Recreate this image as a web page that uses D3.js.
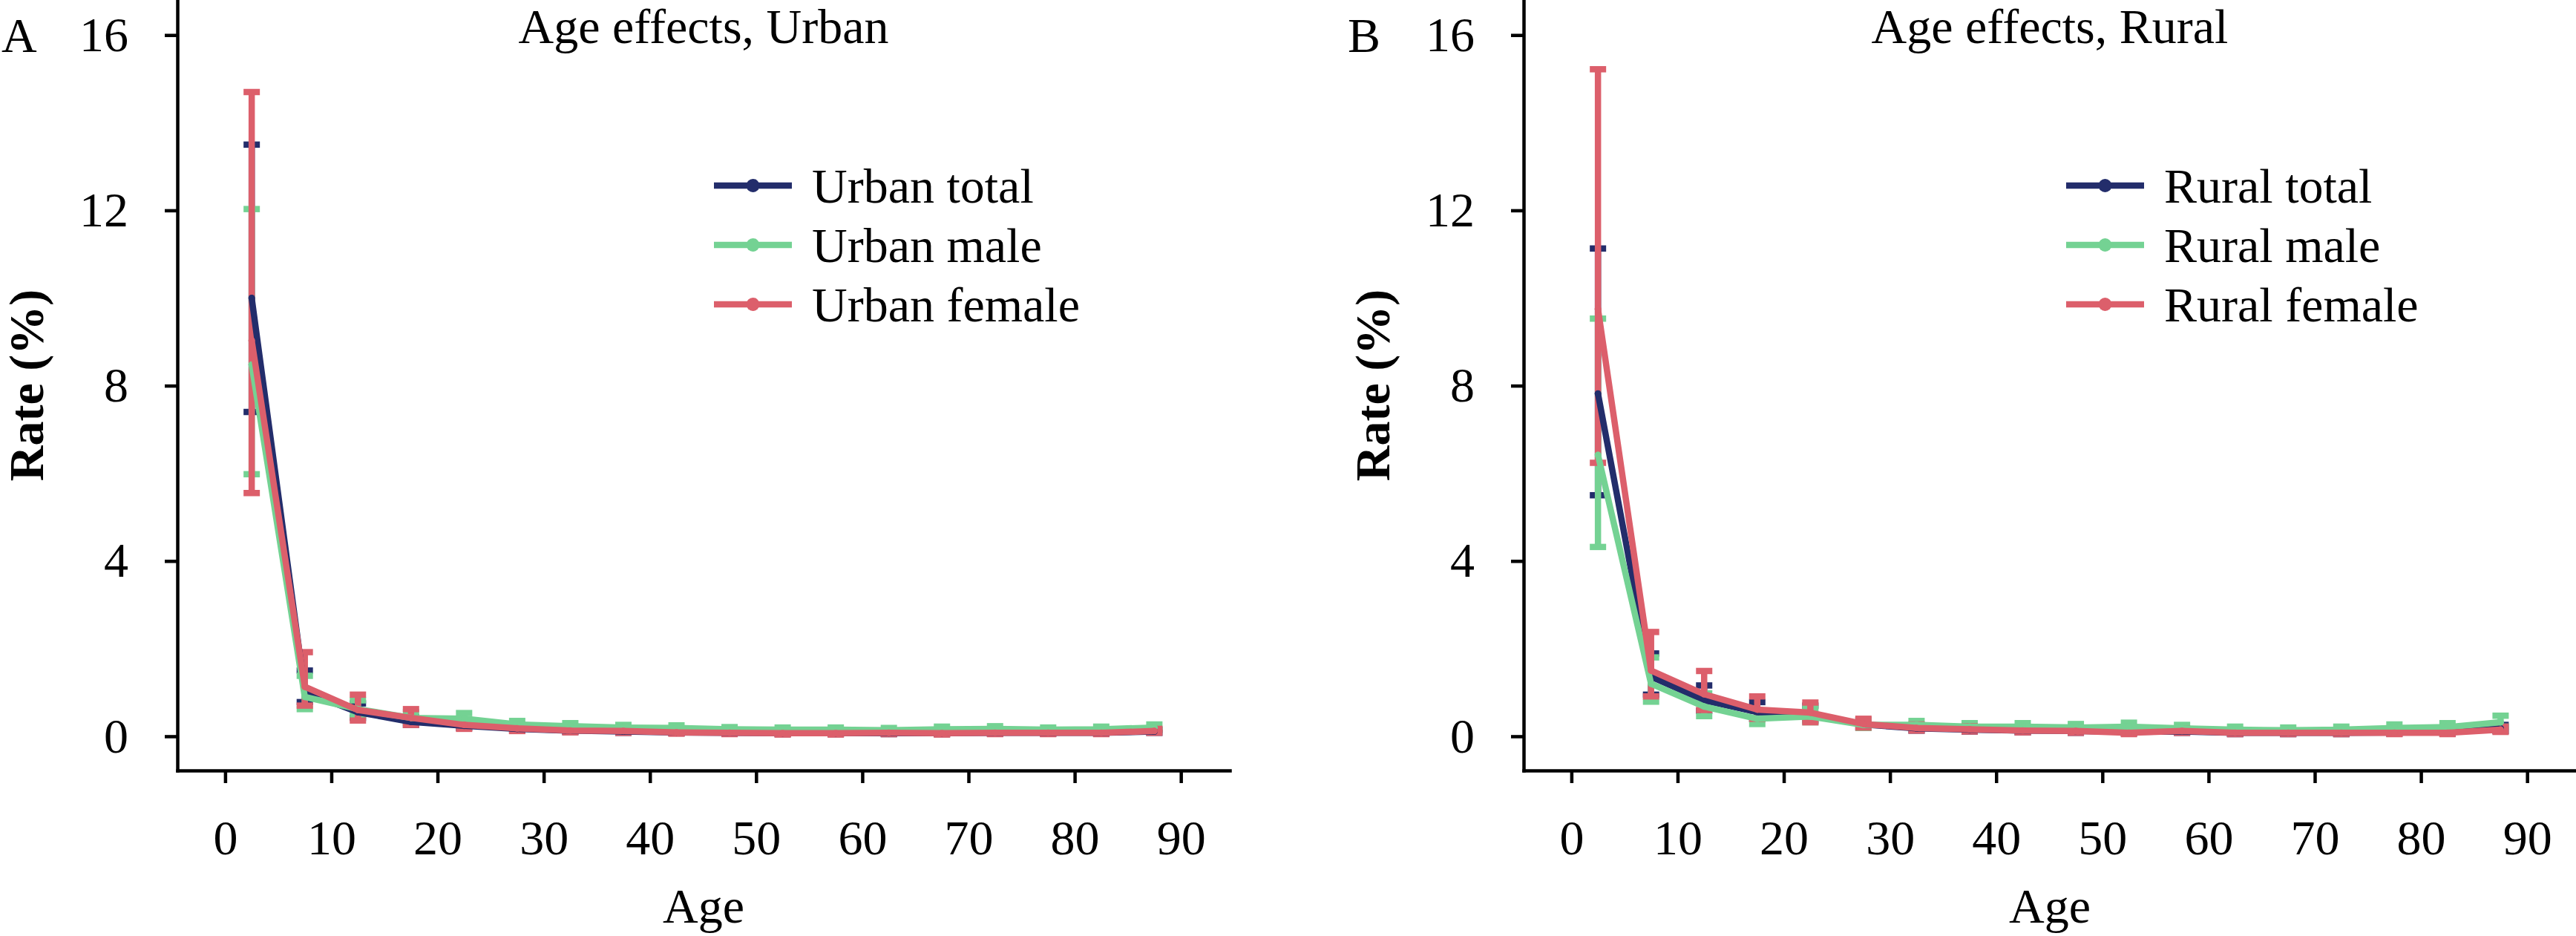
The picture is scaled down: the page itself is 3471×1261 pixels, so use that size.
<!DOCTYPE html>
<html>
<head>
<meta charset="utf-8">
<script src="https://cdn.jsdelivr.net/npm/d3@7"></script>
<style>
  html, body { margin: 0; padding: 0; background: #fff; }
  svg { display: block; }
  text { font-family: "Liberation Serif", "Times New Roman", serif; fill: #000; }
</style>
</head>
<body>
<svg id="chart" width="3471" height="1261"></svg>
<script>
// ---- Data ----
const ages = [2.5, 7.5, 12.5, 17.5, 22.5, 27.5, 32.5, 37.5, 42.5, 47.5, 52.5, 57.5, 62.5, 67.5, 72.5, 77.5, 82.5, 87.5];
const xTicks = [0, 10, 20, 30, 40, 50, 60, 70, 80, 90];
const yTicks = [0, 4, 8, 12, 16];

// Urban
const urbanTotal   = [10.0, 1.02, 0.55, 0.33, 0.24, 0.17, 0.13, 0.11, 0.09, 0.08, 0.07, 0.07, 0.07, 0.07, 0.08, 0.08, 0.08, 0.11];
const urbanTotalLo = [7.4, 0.78, 0.42, 0.26, 0.19, 0.13, 0.10, 0.08, 0.07, 0.06, 0.05, 0.05, 0.05, 0.05, 0.06, 0.06, 0.06, 0.08];
const urbanTotalHi = [13.5, 1.50, 0.75, 0.44, 0.31, 0.22, 0.17, 0.14, 0.12, 0.11, 0.10, 0.10, 0.10, 0.10, 0.11, 0.11, 0.11, 0.15];
const urbanMale    = [8.48, 0.90, 0.62, 0.42, 0.40, 0.27, 0.23, 0.20, 0.19, 0.16, 0.15, 0.15, 0.14, 0.16, 0.17, 0.15, 0.16, 0.20];
const urbanMaleLo  = [5.98, 0.62, 0.47, 0.31, 0.30, 0.21, 0.18, 0.16, 0.15, 0.12, 0.11, 0.11, 0.10, 0.12, 0.13, 0.11, 0.12, 0.15];
const urbanMaleHi  = [12.03, 1.38, 0.82, 0.55, 0.53, 0.35, 0.30, 0.26, 0.25, 0.21, 0.20, 0.20, 0.19, 0.22, 0.23, 0.20, 0.22, 0.27];
const urbanFemale  = [9.03, 1.13, 0.60, 0.42, 0.26, 0.18, 0.13, 0.12, 0.09, 0.08, 0.07, 0.07, 0.08, 0.07, 0.08, 0.08, 0.08, 0.12];
const urbanFemaleLo= [5.55, 0.70, 0.36, 0.26, 0.17, 0.12, 0.09, 0.08, 0.06, 0.05, 0.04, 0.04, 0.05, 0.04, 0.05, 0.05, 0.05, 0.08];
const urbanFemaleHi= [14.7, 1.92, 0.95, 0.62, 0.38, 0.26, 0.19, 0.17, 0.13, 0.12, 0.11, 0.11, 0.12, 0.11, 0.12, 0.12, 0.12, 0.17];

// Rural
const ruralTotal   = [7.82, 1.36, 0.82, 0.55, 0.50, 0.27, 0.18, 0.15, 0.13, 0.12, 0.10, 0.11, 0.08, 0.08, 0.08, 0.09, 0.09, 0.18];
const ruralTotalLo = [5.5, 0.95, 0.58, 0.40, 0.36, 0.20, 0.13, 0.11, 0.09, 0.08, 0.07, 0.08, 0.05, 0.05, 0.05, 0.06, 0.06, 0.12];
const ruralTotalHi = [11.13, 1.89, 1.16, 0.78, 0.70, 0.37, 0.25, 0.21, 0.19, 0.17, 0.15, 0.16, 0.12, 0.12, 0.12, 0.13, 0.13, 0.26];
const ruralMale    = [6.42, 1.20, 0.68, 0.40, 0.45, 0.26, 0.26, 0.22, 0.22, 0.20, 0.22, 0.18, 0.15, 0.14, 0.15, 0.19, 0.21, 0.32];
const ruralMaleLo  = [4.32, 0.79, 0.46, 0.28, 0.32, 0.19, 0.19, 0.16, 0.16, 0.14, 0.16, 0.13, 0.10, 0.10, 0.10, 0.14, 0.15, 0.22];
const ruralMaleHi  = [9.53, 1.80, 0.98, 0.58, 0.64, 0.36, 0.35, 0.30, 0.30, 0.28, 0.31, 0.26, 0.22, 0.20, 0.22, 0.27, 0.30, 0.47];
const ruralFemale  = [9.75, 1.50, 0.96, 0.61, 0.54, 0.28, 0.19, 0.16, 0.13, 0.12, 0.08, 0.12, 0.08, 0.08, 0.08, 0.08, 0.08, 0.15];
const ruralFemaleLo= [6.24, 0.91, 0.60, 0.40, 0.32, 0.20, 0.13, 0.11, 0.09, 0.08, 0.05, 0.08, 0.05, 0.05, 0.05, 0.05, 0.05, 0.10];
const ruralFemaleHi= [15.22, 2.38, 1.49, 0.91, 0.77, 0.40, 0.27, 0.23, 0.19, 0.17, 0.13, 0.18, 0.12, 0.12, 0.12, 0.12, 0.12, 0.22];

const colors = { total: "#232D6B", male: "#74D293", female: "#DC5F6B" };

const panels = [
  { letter: "A", title: "Age effects, Urban", offset: 0,
    series: [
      { name: "Urban total",  key: "total",  v: urbanTotal,  lo: urbanTotalLo,  hi: urbanTotalHi },
      { name: "Urban male",   key: "male",   v: urbanMale,   lo: urbanMaleLo,   hi: urbanMaleHi },
      { name: "Urban female", key: "female", v: urbanFemale, lo: urbanFemaleLo, hi: urbanFemaleHi }
    ], legendX: 962 },
  { letter: "B", title: "Age effects, Rural", offset: 1814,
    series: [
      { name: "Rural total",  key: "total",  v: ruralTotal,  lo: ruralTotalLo,  hi: ruralTotalHi },
      { name: "Rural male",   key: "male",   v: ruralMale,   lo: ruralMaleLo,   hi: ruralMaleHi },
      { name: "Rural female", key: "female", v: ruralFemale, lo: ruralFemaleLo, hi: ruralFemaleHi }
    ], legendX: 970 }
];

// ---- Drawing ----
const svg = d3.select("#chart");
const FS = 66;
const axisW = 4.5;
const lineW = 8.5;

panels.forEach(p => {
  const g = svg.append("g").attr("transform", `translate(${p.offset},0)`);
  const x = d3.scaleLinear().domain([-4.5, 94.6]).range([239, 1657]);
  const y = d3.scaleLinear().domain([-0.78, 16.8]).range([1038, 0]);

  // y axis
  const ya = g.append("g").attr("transform", `translate(${x.range()[0]},0)`)
    .call(d3.axisLeft(y).tickValues(yTicks).tickSize(17).tickSizeOuter(0).tickPadding(49).tickFormat(d3.format("d")));
  // x axis
  const xa = g.append("g").attr("transform", `translate(0,${y.range()[0]})`)
    .call(d3.axisBottom(x).tickValues(xTicks).tickSize(17).tickSizeOuter(0).tickPadding(49).tickFormat(d3.format("d")));
  [ya, xa].forEach(a => {
    a.selectAll("path.domain").attr("stroke", "#000").attr("stroke-width", axisW).attr("stroke-linecap", "square");
    a.selectAll(".tick line").attr("stroke", "#000").attr("stroke-width", axisW);
    a.selectAll(".tick text").attr("font-size", FS).attr("font-family", "Liberation Serif, Times New Roman, serif").attr("fill", "#000");
  });

  // axis titles
  g.append("text").attr("x", (x.range()[0] + x.range()[1]) / 2).attr("y", 1243)
    .attr("text-anchor", "middle").attr("font-size", FS).text("Age");
  g.append("text").attr("transform", `translate(58,${(y.range()[0] + y.range()[1]) / 2}) rotate(-90)`)
    .attr("text-anchor", "middle").attr("font-size", FS).attr("font-weight", "bold").text("Rate (%)");
  // panel title & letter
  g.append("text").attr("x", (x.range()[0] + x.range()[1]) / 2).attr("y", 58)
    .attr("text-anchor", "middle").attr("font-size", FS).text(p.title);
  g.append("text").attr("x", 2).attr("y", 70).attr("font-size", FS).text(p.letter);

  // error bars
  const capW = 22;
  p.series.forEach(s => {
    const eg = g.append("g").attr("stroke", colors[s.key]).attr("stroke-width", lineW).attr("fill", "none");
    ages.forEach((a, i) => {
      const cx = x(a);
      eg.append("line").attr("x1", cx).attr("x2", cx).attr("y1", y(s.lo[i])).attr("y2", y(s.hi[i]));
      eg.append("line").attr("x1", cx - capW / 2).attr("x2", cx + capW / 2).attr("y1", y(s.lo[i])).attr("y2", y(s.lo[i]));
      eg.append("line").attr("x1", cx - capW / 2).attr("x2", cx + capW / 2).attr("y1", y(s.hi[i])).attr("y2", y(s.hi[i]));
    });
  });

  // lines + points
  const line = d3.line().x((d, i) => x(ages[i])).y(d => y(d));
  p.series.forEach(s => {
    g.append("path").datum(s.v).attr("d", line).attr("fill", "none")
      .attr("stroke", colors[s.key]).attr("stroke-width", lineW).attr("stroke-linejoin", "round").attr("stroke-linecap", "round");
    g.append("g").selectAll("circle").data(s.v).join("circle")
      .attr("cx", (d, i) => x(ages[i])).attr("cy", d => y(d)).attr("r", 4.5).attr("fill", colors[s.key]);
  });

  // legend
  const lg = g.append("g");
  p.series.forEach((s, i) => {
    const ly = 250 + i * 80;
    const x0 = p.legendX, x1 = p.legendX + 105;
    lg.append("line").attr("x1", x0).attr("x2", x1).attr("y1", ly).attr("y2", ly)
      .attr("stroke", colors[s.key]).attr("stroke-width", lineW);
    lg.append("circle").attr("cx", (x0 + x1) / 2).attr("cy", ly).attr("r", 9).attr("fill", colors[s.key]);
    lg.append("text").attr("x", x1 + 27).attr("y", ly + 23).attr("font-size", FS).text(s.name);
  });
});
</script>
</body>
</html>
